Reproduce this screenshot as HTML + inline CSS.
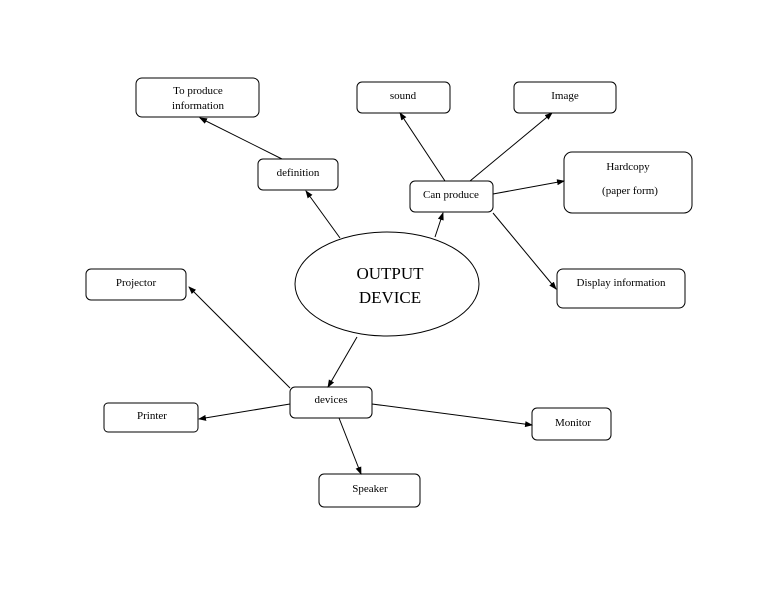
<!DOCTYPE html>
<html><head><style>html,body{margin:0;padding:0;background:#fff}</style></head><body>
<svg width="768" height="594" viewBox="0 0 768 594" xmlns="http://www.w3.org/2000/svg" font-family="Liberation Serif, serif" font-size="11" fill="#000">
<defs><marker id="a" markerWidth="8" markerHeight="6" refX="7" refY="3" orient="auto" markerUnits="userSpaceOnUse"><path d="M0,0 L8,3 L0,6 z" fill="#000"/></marker></defs>
<g fill="none" stroke="#000" stroke-width="1">
<rect x="136" y="78" width="123" height="39" rx="6"/>
<rect x="357" y="82" width="93" height="31" rx="5"/>
<rect x="514" y="82" width="102" height="31" rx="5"/>
<rect x="258" y="159" width="80" height="31" rx="5"/>
<rect x="410" y="181" width="83" height="31" rx="5"/>
<rect x="564" y="152" width="128" height="61" rx="8"/>
<rect x="557" y="269" width="128" height="39" rx="6"/>
<rect x="86" y="269" width="100" height="31" rx="5"/>
<ellipse cx="387" cy="284" rx="92" ry="52"/>
<rect x="290" y="387" width="82" height="31" rx="5"/>
<rect x="104" y="403" width="94" height="29" rx="4"/>
<rect x="532" y="408" width="79" height="32" rx="5"/>
<rect x="319" y="474" width="101" height="33" rx="5"/>
<g marker-end="url(#a)">
<line x1="282" y1="159" x2="200" y2="118"/>
<line x1="340" y1="238" x2="306" y2="191"/>
<line x1="435" y1="237" x2="443" y2="213"/>
<line x1="445" y1="181" x2="400" y2="113"/>
<line x1="470" y1="181" x2="552" y2="113"/>
<line x1="493" y1="194" x2="564" y2="181"/>
<line x1="493" y1="213" x2="556" y2="289"/>
<line x1="357" y1="337" x2="328" y2="387"/>
<line x1="290" y1="388" x2="189" y2="287"/>
<line x1="290" y1="404" x2="199" y2="419"/>
<line x1="372" y1="404" x2="532" y2="425"/>
<line x1="339" y1="418" x2="361" y2="474"/>
</g></g>
<g text-anchor="middle">
<text x="198" y="94">To produce</text>
<text x="198" y="109">information</text>
<text x="403" y="99">sound</text>
<text x="565" y="99">Image</text>
<text x="298" y="176">definition</text>
<text x="451" y="198">Can produce</text>
<text x="628" y="170">Hardcopy</text>
<text x="630" y="194">(paper form)</text>
<text x="621" y="286">Display  information</text>
<text x="136" y="286">Projector</text>
<text x="390" y="279" font-size="17">OUTPUT</text>
<text x="390" y="303" font-size="17">DEVICE</text>
<text x="331" y="403">devices</text>
<text x="152" y="419">Printer</text>
<text x="573" y="426">Monitor</text>
<text x="370" y="492">Speaker</text>
</g>
</svg>
</body></html>
